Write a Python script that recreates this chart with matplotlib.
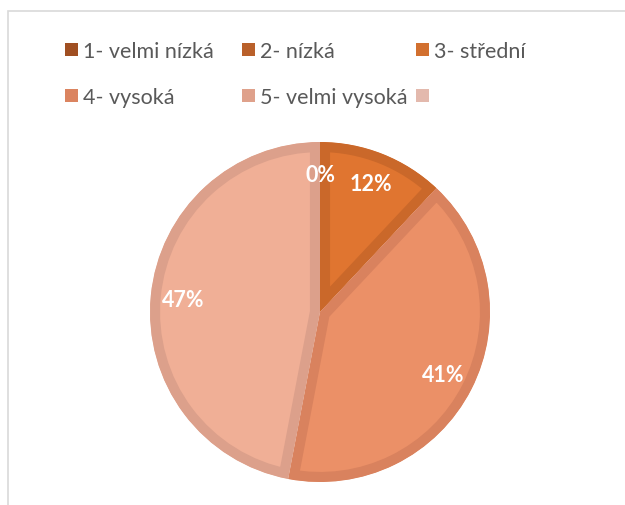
import numpy as np
import matplotlib.pyplot as plt
from matplotlib.patches import Rectangle

plt.rcParams['font.family'] = ['Lato', 'DejaVu Sans']

categories = ['1- velmi nízká', '2- nízká', '3- střední', '4- vysoká', '5- velmi vysoká', '']
values = [0, 0, 12, 41, 47, 0]
pct_labels = ['0%', '', '12%', '41%', '47%', '']

fills = ['#A04F22', '#BA602A', '#E07530', '#EB9067', '#F0AF96', '#E6BFB2']
edges = ['#9C4C20', '#B55D27', '#CA682A', '#D9825E', '#DCA08B', '#E2B9AD']
legend_cols = ['#A04F22', '#B9602A', '#D2702F', '#DB8460', '#DFA18B', '#E3B9AD']

W, H = 625, 506
fig = plt.figure(figsize=(6.25, 5.06), dpi=100)

# chart frame (only left/top visible in the crop)
fig.add_artist(Rectangle((8 / W, -0.1), 1.2, (H - 12) / H + 0.1, transform=fig.transFigure,
                         facecolor='none', edgecolor='#D9D9D9', linewidth=1.2))

# pie
cx, cy, r = 320, 313, 170
ax = fig.add_axes([(cx - r) / W, (H - cy - r) / H, 2 * r / W, 2 * r / H])
wedges, _ = ax.pie(values, colors=fills, startangle=90, counterclock=False, radius=1,
                   wedgeprops=dict(linewidth=14.5))
for w, ec, v in zip(wedges, edges, values):
    w.set_edgecolor(ec)
    w.set_clip_on(True)
    w.set_clip_path(w)  # keeps only the inner half of the outline
    if v == 0:
        w.set_visible(False)

# data labels
ang = 90.0
tot = sum(values)
for v, lab in zip(values, pct_labels):
    span = v / tot * 360
    mid = np.radians(ang - span / 2)
    ang -= span
    if lab:
        ax.text(0.81 * np.cos(mid), 0.81 * np.sin(mid), lab, color='white', fontsize=15.5,
                fontweight='bold', ha='center', va='center')
ax.set_xlim(-1, 1)
ax.set_ylim(-1, 1)
ax.axis('off')

# legend, row-major 3 columns
col_x = [65, 242, 416]
row_y = [50, 96]
for i, (lab, c) in enumerate(zip(categories, legend_cols)):
    x = col_x[i % 3]
    y = row_y[i // 3]
    fig.add_artist(Rectangle((x / W, (H - y - 6.5) / H), 13 / W, 13 / H,
                             transform=fig.transFigure, facecolor=c, edgecolor='none'))
    fig.text((x + 18) / W, (H - y) / H, lab, fontsize=15.5, color='#595959',
             ha='left', va='center_baseline')

fig.savefig('out.png', dpi=100)
